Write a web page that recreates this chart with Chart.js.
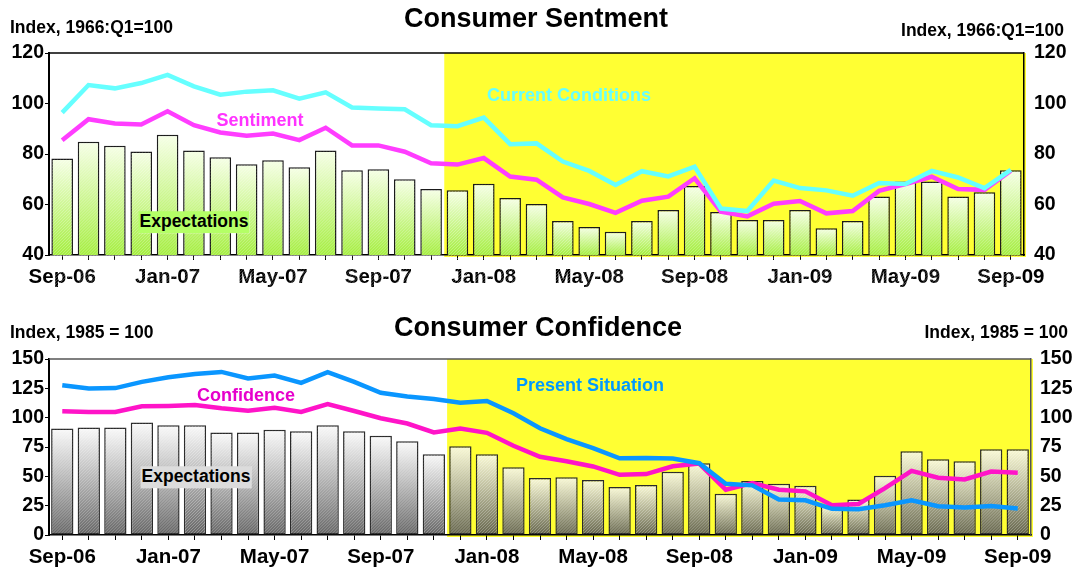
<!DOCTYPE html>
<html>
<head>
<meta charset="utf-8">
<script src="https://cdn.jsdelivr.net/npm/chart.js@4/dist/chart.umd.min.js"></script>
<style>
  html, body { margin: 0; padding: 0; background: #fff; }
  body { width: 1078px; height: 571px; position: relative; overflow: hidden;
         font-family: "Liberation Sans", Arial, sans-serif; font-weight: bold; }
  .box { position: absolute; left: 0; width: 1078px; }
  .txt { position: absolute; white-space: nowrap; line-height: 1; }
  .c { transform: translate(-50%, -50%); }
  .l { transform: translateY(-50%); }
  .r { transform: translate(-100%, -50%); }
</style>
</head>
<body>
<div class="box" style="top:0;height:290px"><canvas id="sentChart"></canvas></div>
<div class="box" style="top:290px;height:281px"><canvas id="confChart"></canvas></div>

<div class="txt c" style="left:536px;top:18px;font-size:27px">Consumer Sentment</div>
<div class="txt l" style="left:10px;top:28px;font-size:17.5px">Index, 1966:Q1=100</div>
<div class="txt r" style="left:1064px;top:31px;font-size:17.5px">Index, 1966:Q1=100</div>
<div class="txt c" style="left:569px;top:95px;font-size:18px;color:#66ffff">Current Conditions</div>
<div class="txt c" style="left:260px;top:120px;font-size:18px;color:#ff33ff">Sentiment</div>
<div class="txt c" style="left:194px;top:222px;font-size:17.5px;background:#b4ff66;padding:2px 1px">Expectations</div>

<div class="txt c" style="left:538px;top:327px;font-size:27px">Consumer Confidence</div>
<div class="txt l" style="left:10px;top:333px;font-size:17.5px">Index, 1985 = 100</div>
<div class="txt r" style="left:1068px;top:333px;font-size:17.5px">Index, 1985 = 100</div>
<div class="txt c" style="left:590px;top:385px;font-size:18px;color:#0099ff">Present Situation</div>
<div class="txt c" style="left:246px;top:395px;font-size:18px;color:#e600cc">Confidence</div>
<div class="txt c" style="left:196px;top:477px;font-size:17.5px;background:#dcdcdc;padding:2px 1px">Expectations</div>

<script>
// ---- DATA ----
const months = ["Sep-06","Oct-06","Nov-06","Dec-06","Jan-07","Feb-07","Mar-07","Apr-07","May-07",
  "Jun-07","Jul-07","Aug-07","Sep-07","Oct-07","Nov-07","Dec-07","Jan-08","Feb-08","Mar-08",
  "Apr-08","May-08","Jun-08","Jul-08","Aug-08","Sep-08","Oct-08","Nov-08","Dec-08","Jan-09",
  "Feb-09","Mar-09","Apr-09","May-09","Jun-09","Jul-09","Aug-09","Sep-09"];
const recessionFrom = "Dec-07";

// Michigan sentiment (1966:Q1=100)
const sentExpectations = [78.2,84.9,83.3,81.0,87.6,81.4,78.7,75.9,77.5,74.8,81.4,73.6,74.0,70.0,66.1,
  65.6,68.2,62.6,60.2,53.5,51.1,49.2,53.5,57.8,67.3,57.0,53.9,53.9,57.8,50.6,53.5,63.2,69.1,69.1,63.2,64.9,73.6];
const sentiment = [85.4,93.8,92.1,91.7,96.9,91.4,88.5,87.2,88.1,85.5,90.4,83.4,83.4,80.9,76.3,
  75.8,78.4,71.1,69.8,62.8,60.2,56.7,61.5,63.1,70.4,57.2,55.3,60.3,61.4,56.5,57.4,65.4,68.1,71.0,66.1,65.8,73.4];
const currentConditions = [96.4,107.3,106.0,108.1,111.3,106.8,103.5,104.7,105.2,101.9,104.4,98.4,98.0,97.7,91.4,
  91.0,94.4,83.9,84.2,77.0,73.3,67.7,73.2,71.1,75.0,58.4,57.4,69.5,66.5,65.6,63.5,68.5,68.1,73.3,70.7,66.5,73.7];
const sentTicks = { min: 40, max: 120, step: 20 };

// Conference Board confidence (1985=100)
const confExpectations = [90.8,91.6,91.6,95.9,93.6,93.6,87.4,87.4,89.7,88.5,93.6,88.5,84.6,79.8,68.8,
  75.6,68.8,57.8,48.5,49.3,46.8,40.9,42.6,53.8,61.2,35.2,46.0,43.7,42.0,24.5,30.2,50.5,71.3,64.6,62.9,73.0,73.0];
const confidence = [105.4,104.9,104.9,109.7,110.0,110.8,108.0,106.0,108.5,104.9,111.6,105.7,99.5,95.0,87.4,
  90.8,87.1,76.1,66.7,62.9,58.4,51.3,51.9,58.6,60.9,38.6,44.3,38.6,37.2,25.4,26.5,40.0,54.7,48.8,47.4,54.1,53.0];
const presentSituation = [127.7,124.9,125.2,130.5,134.5,137.3,139.0,133.4,135.9,129.7,138.7,130.5,121.2,118.1,115.9,
  112.8,114.2,103.7,91.0,81.8,74.1,65.4,65.7,65.1,61.2,43.7,42.3,30.2,29.6,22.3,22.0,25.4,29.6,24.5,23.4,24.8,22.6];
const confTicks = { min: 0, max: 150, step: 25 };

const FONT = '"Liberation Sans", Arial, sans-serif';

// ---- PLUGINS ----
const recessionShade = {
  id: "recessionShade",
  beforeDraw(chart) {
    const { ctx, chartArea, scales } = chart;
    const x0 = scales.x.getPixelForValue(months.indexOf(recessionFrom) - 0.5);
    ctx.save();
    ctx.fillStyle = "#ffff33";
    ctx.fillRect(x0, chartArea.top, chartArea.right + 2 - x0, chartArea.bottom + 2 - chartArea.top);
    ctx.restore();
  },
  afterDraw(chart) {
    const { ctx, chartArea } = chart;
    ctx.save();
    ctx.strokeStyle = chart.options.plugins.recessionShade.frame;
    ctx.lineWidth = 1.5;
    ctx.beginPath();
    ctx.moveTo(chartArea.left, chartArea.top);
    ctx.lineTo(chartArea.right, chartArea.top);
    ctx.stroke();
    ctx.restore();
  }
};

// fine diagonal hatching on the bars
const barHatch = {
  id: "barHatch",
  afterDatasetDraw(chart, args) {
    const meta = args.meta;
    if (meta.type !== "bar") return;
    const ctx = chart.ctx;
    ctx.save();
    ctx.strokeStyle = "rgba(255,255,255,0.28)";
    ctx.lineWidth = 1;
    meta.data.forEach(bar => {
      const { x, y, base, width } = bar.getProps(["x", "y", "base", "width"], true);
      const l = x - width / 2 + 1, r = x + width / 2 - 1;
      ctx.save();
      ctx.beginPath();
      ctx.rect(l, y + 1, r - l, base - y - 2);
      ctx.clip();
      ctx.beginPath();
      for (let s = l - (base - y); s < r; s += 3) {
        ctx.moveTo(s, base);
        ctx.lineTo(s + (base - y), y);
      }
      ctx.stroke();
      ctx.restore();
    });
    ctx.restore();
  }
};

function barGradient(top, bottom) {
  return function (c) {
    const chart = c.chart;
    const sc = chart.scales && chart.scales.y;
    if (!chart.chartArea || !sc || c.raw == null) return bottom;
    const y = sc.getPixelForValue(c.raw);
    const g = chart.ctx.createLinearGradient(0, y, 0, chart.chartArea.bottom);
    g.addColorStop(0, top);
    g.addColorStop(1, bottom);
    return g;
  };
}

function makeChart(id, o) {
  return new Chart(document.getElementById(id), {
    type: "bar",
    data: {
      labels: months,
      datasets: [
        { type: "line", data: o.line1, borderColor: o.c1, borderWidth: 4.5, pointRadius: 0, tension: 0, order: 1 },
        { type: "line", data: o.line2, borderColor: o.c2, borderWidth: 4.5, pointRadius: 0, tension: 0, order: 1 },
        { type: "bar", data: o.bars, backgroundColor: barGradient(o.barTop, o.barBottom),
          borderColor: o.barBorder, borderWidth: 1.5, borderSkipped: false,
          barPercentage: o.barPct, categoryPercentage: 1, order: 2 }
      ]
    },
    options: {
      responsive: true,
      maintainAspectRatio: false,
      animation: false,
      events: [],
      layout: { padding: { top: o.padTop, left: 0, right: 0, bottom: 0 } },
      plugins: { legend: { display: false }, tooltip: { enabled: false }, title: { display: false },
                 recessionShade: { frame: o.frame } },
      scales: {
        x: {
          offset: true,
          grid: { drawOnChartArea: false, tickLength: 5, color: "#000", offset: false },
          border: { color: "#000", width: 1.5 },
          ticks: {
            autoSkip: false, maxRotation: 0, padding: 5, color: "#000",
            font: { family: FONT, size: 20.5, weight: "bold" },
            callback: (v, i) => (i % 4 === 0 ? months[i] : "")
          },
          afterFit(s) { s.height = o.xHeight; }
        },
        y: {
          position: "left",
          min: o.ticks.min, max: o.ticks.max,
          grid: { drawOnChartArea: false, tickLength: 4, color: "#000" },
          border: { color: "#000", width: 2 },
          ticks: { stepSize: o.ticks.step, padding: 1, color: "#000", font: { family: FONT, size: 19.5, weight: "bold" } },
          afterFit(s) { s.width = 49; }
        },
        y2: {
          position: "right",
          min: o.ticks.min, max: o.ticks.max,
          grid: { drawOnChartArea: false, drawTicks: false },
          border: { color: o.frame, width: 1.5 },
          ticks: { stepSize: o.ticks.step, padding: o.rightPad, color: "#000", font: { family: FONT, size: 19.5, weight: "bold" } },
          afterFit(s) { s.width = o.rightWidth; }
        }
      }
    },
    plugins: [recessionShade, barHatch]
  });
}

makeChart("sentChart", {
  line1: currentConditions, c1: "#66ffff",
  line2: sentiment, c2: "#ff3dff",
  bars: sentExpectations, barTop: "#f6ffe6", barBottom: "#a4ee3e", barBorder: "#1a1a1a", barPct: 0.82,
  ticks: sentTicks, padTop: 53, xHeight: 35, rightWidth: 54, rightPad: 10, frame: "#000"
});

makeChart("confChart", {
  line1: presentSituation, c1: "#0a96ff",
  line2: confidence, c2: "#ff14c8",
  bars: confExpectations, barTop: "rgba(248,248,248,0.82)", barBottom: "rgba(78,78,78,0.88)", barBorder: "#2a2a2a", barPct: 0.84,
  ticks: confTicks, padTop: 69, xHeight: 36, rightWidth: 47, rightPad: 9, frame: "#555"
});
</script>
</body>
</html>
